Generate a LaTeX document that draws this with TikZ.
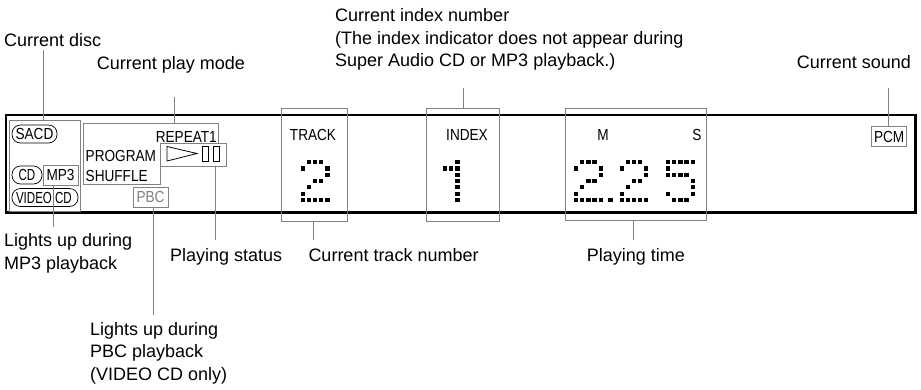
\documentclass[tikz,border=0pt]{standalone}
\usepackage{fontspec}
\setmainfont{Liberation Sans}
\newfontfamily\dispfont[FakeStretch=0.85]{Liberation Sans}
\usetikzlibrary{calc}
\definecolor{ldgray}{gray}{0.5}
\newcommand\dmdigit[3]{\foreach \c/\r in {#3} \fill ({#1+\c*6.15},{#2+\r*6.3}) rectangle ++(4.2,4.2);}
\tikzset{
  lbl/.style={font=\fontsize{18}{22.5}\selectfont, inner sep=0pt, align=left},
  disp/.style={font=\dispfont\fontsize{16}{16}\selectfont, inner sep=0pt},
  gbox/.style={draw=ldgray, line width=0.9pt, inner sep=0pt},
  leader/.style={draw=ldgray, line width=0.9pt},
  oval/.style={draw=black, line width=0.7pt, rounded corners=8.5pt, inner sep=0pt, minimum height=18pt},
  outerbox/.style={draw=black, line width=2.8pt, inner sep=0pt},
}
\begin{document}
\begin{tikzpicture}[x=1pt,y=-1pt]
\useasboundingbox (0,0) rectangle (921,389);
% main display
\node[outerbox, minimum width=909.5pt, minimum height=97.5pt] (display) at (460.75,163.75) {};
% disc group
\node[gbox, minimum width=70.7pt, minimum height=91pt] (discbox) at (44.65,165.5) {};
\node[oval, disp, minimum width=45pt] (sacd) at (34.5,134) {SACD};
\node[oval, disp, minimum width=30pt] (cdoval) at (27,175) {\scalebox{0.85}[1]{CD}};
\node[gbox, disp, minimum width=35pt, minimum height=20pt] (mp3box) at (60.5,175) {MP3};
\node[oval, minimum width=66pt] (vcdoval) at (45,197.5) {};
\node[disp, anchor=base] (vtxt) at (34,203.5) {\scalebox{0.85}[1]{VIDEO}};
\node[disp, anchor=base] (ctxt) at (63.5,203.5) {\scalebox{0.85}[1]{CD}};
% play mode
\coordinate (modetop) at (83,123);
\draw[ldgray, line width=0.9pt] (modetop) -- (218,123) -- (218,143) -- (160,143) -- (160,184) -- (83,184) -- cycle;
\node[disp, anchor=base east] (repeat) at (217,142.3) {REPEAT1};
\node[disp, anchor=base west] (program) at (85.5,161.7) {PROGRAM};
\node[disp, anchor=base west] (shuffle) at (85.5,181) {SHUFFLE};
\node[gbox, minimum width=66pt, minimum height=23pt] (statusbox) at (193,154.5) {};
\draw[line width=0.8pt] (167,146.5) -- (197,153.5) -- (167,161) -- cycle;
\draw[line width=0.8pt] (202,146.5) rectangle (208,161);
\draw[line width=0.8pt] (213,146.5) rectangle (219,161);
\node[gbox, disp, text=ldgray, minimum width=35pt, minimum height=20pt] (pbcbox) at (150.5,197) {PBC};
% track
\node[gbox, minimum width=66pt, minimum height=113pt] (trackbox) at (314,164.5) {};
\node[disp, anchor=base] (tracktxt) at (313,140.7) {TRACK};
\dmdigit{300.7}{160}{1/0,2/0,3/0,0/1,4/1,4/2,2/3,3/3,1/4,0/5,0/6,1/6,2/6,3/6,4/6}
% index
\node[gbox, minimum width=73pt, minimum height=113pt] (indexbox) at (462.5,164.5) {};
\node[disp, anchor=base] (indextxt) at (467,140) {INDEX};
\dmdigit{443}{160}{2/0,0/1,1/1,2/1,2/2,2/3,2/4,2/5,2/6}
% time
\node[gbox, minimum width=141pt, minimum height=112.5pt] (timebox) at (635.5,164.25) {};
\node[disp, anchor=base] (mtxt) at (603,140) {M};
\node[disp, anchor=base] (stxt) at (697,140) {S};
\dmdigit{574}{160}{1/0,2/0,3/0,0/1,4/1,4/2,2/3,3/3,1/4,0/5,0/6,1/6,2/6,3/6,4/6}
\fill (608.3,197.8) rectangle ++(4.2,4.2);
\dmdigit{619.5}{160}{1/0,2/0,3/0,0/1,4/1,4/2,2/3,3/3,1/4,0/5,0/6,1/6,2/6,3/6,4/6}
\dmdigit{666}{160}{0/0,1/0,2/0,3/0,4/0,0/1,0/2,1/2,2/2,3/2,4/3,4/4,0/5,4/5,1/6,2/6,3/6}
% PCM
\node[gbox, disp, minimum width=35pt, minimum height=20pt] (pcmbox) at (889.2,136.7) {PCM};
% labels
\node[lbl, anchor=base west] (discl) at (4,46.7) {Current disc};
\node[lbl, anchor=base west] (model) at (96.7,69.3) {Current play mode};
\node[lbl, anchor=north west] (indexl) at (335,8.7) {Current index number\\(The index indicator does not appear during\\Super Audio CD or MP3 playback.)};
\node[lbl, anchor=base west] (soundl) at (796.7,68.3) {Current sound};
\node[lbl, anchor=north west] (mp3l) at (4,233.7) {Lights up during\\MP3 playback};
\node[lbl, anchor=base west] (statusl) at (170,261.7) {Playing status};
\node[lbl, anchor=base west] (trackl) at (308.3,261.7) {Current track number};
\node[lbl, anchor=base west] (timel) at (586.7,261.7) {Playing time};
\node[lbl, anchor=north west] (pbcl) at (90,322) {Lights up during\\PBC playback\\(VIDEO CD only)};
% leaders
\coordinate (discpt) at (43,50);
\coordinate (modept) at (174,97);
\coordinate (idxpt) at (463,88);
\coordinate (sndpt) at (888,88);
\coordinate (mp3pt) at (53,227);
\coordinate (pbcpt) at (153,315);
\coordinate (stpt) at (215,240);
\coordinate (trkpt) at (313,240);
\coordinate (timept) at (633,240);
\draw[leader] (discpt) -- (discpt |- discbox.north);
\draw[leader] (modept) -- (modept |- modetop);
\draw[leader] (idxpt) -- (idxpt |- indexbox.north);
\draw[leader] (sndpt) -- (sndpt |- pcmbox.north);
\draw[leader] (mp3pt |- mp3box.south) -- (mp3pt);
\draw[leader] (pbcpt |- pbcbox.south) -- (pbcpt);
\draw[leader] (stpt |- statusbox.south) -- (stpt);
\draw[leader] (trkpt |- trackbox.south) -- (trkpt);
\draw[leader] (timept |- timebox.south) -- (timept);
\end{tikzpicture}
\end{document}
